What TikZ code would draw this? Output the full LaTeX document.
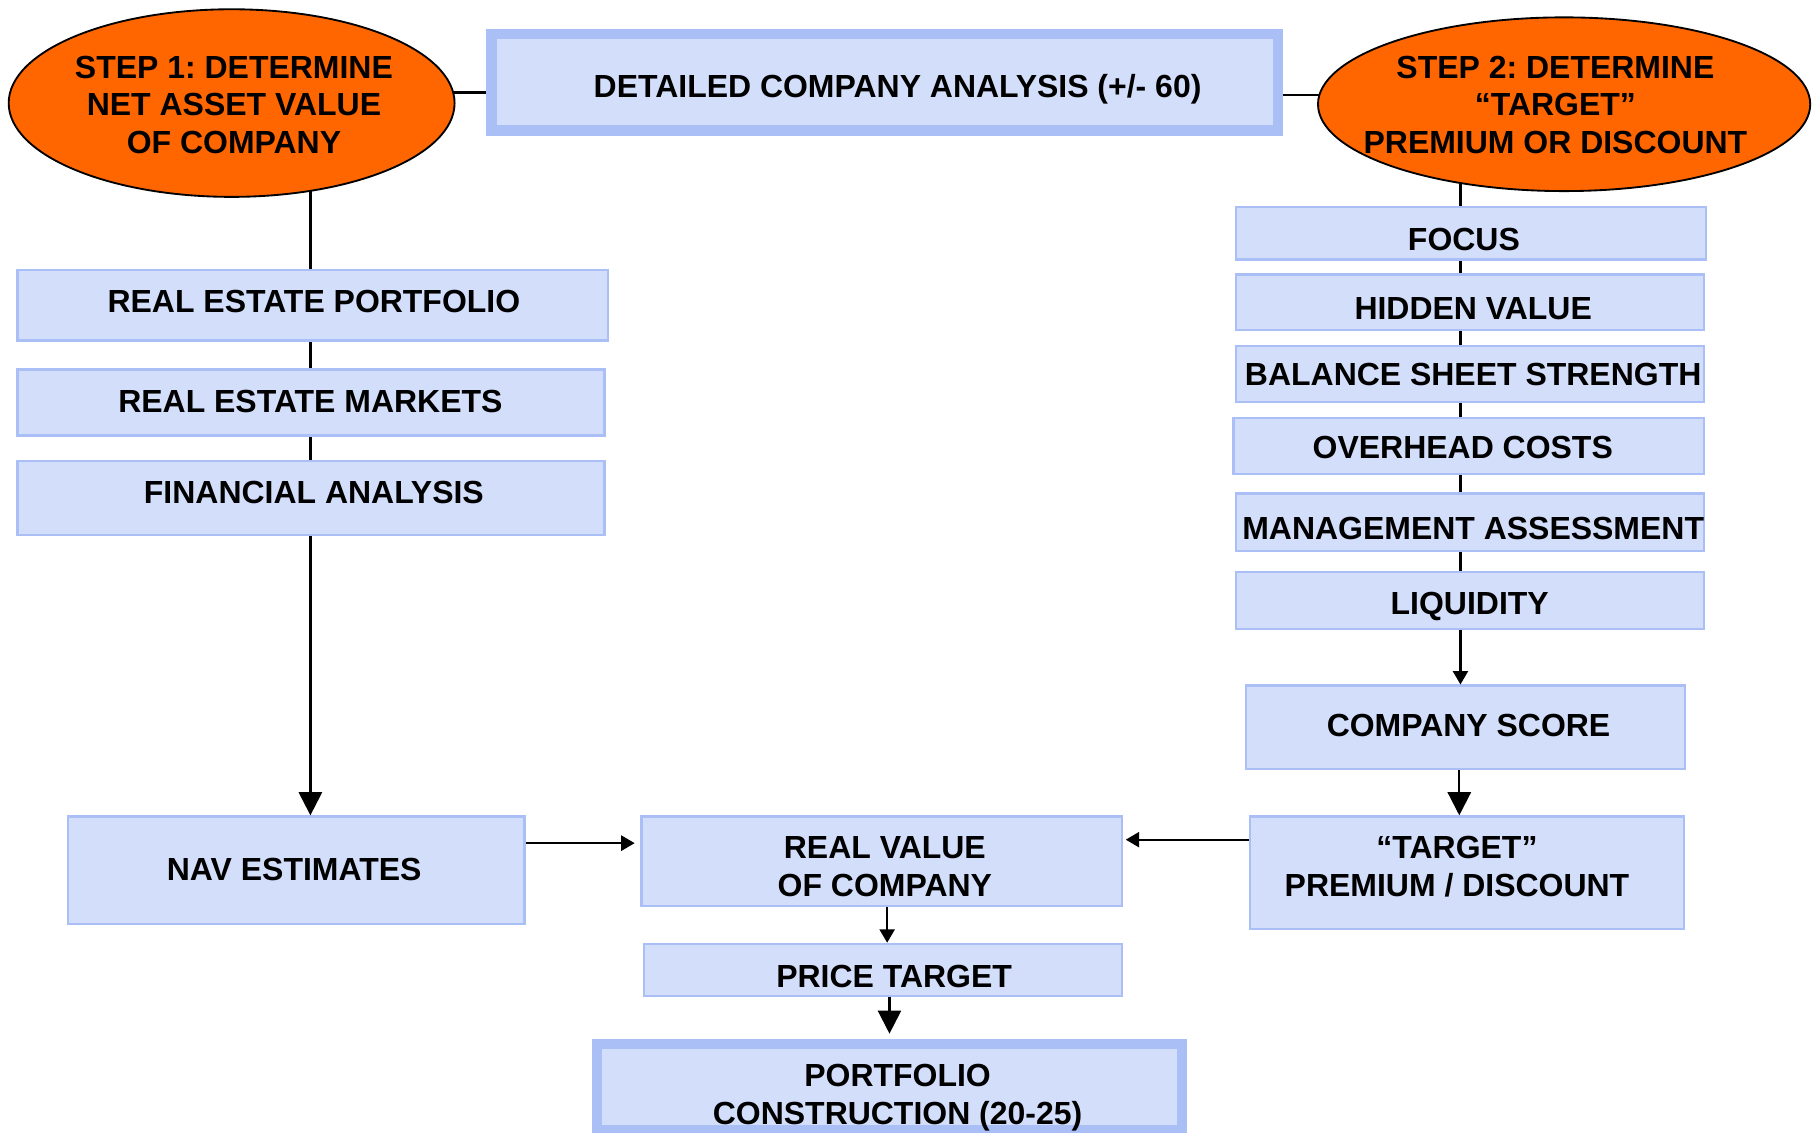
\documentclass[tikz,border=0pt]{standalone}
\usepackage{fontspec}
\setmainfont{Liberation Sans}
\frenchspacing
\usetikzlibrary{arrows.meta,shapes.geometric,backgrounds}
\definecolor{boxfill}{RGB}{211,222,250}
\definecolor{boxline}{RGB}{170,191,245}
\definecolor{steporange}{RGB}{255,102,0}
\tikzset{
  panel/.style={draw=boxline, fill=boxfill, line width=1pt, inner sep=0pt},
  heavypanel/.style={panel, line width=4.5pt},
  stepoval/.style={ellipse, draw=black, fill=steporange, line width=0.8pt, inner sep=0pt},
  lbl/.style={font=\fontsize{13.8}{16.3}\selectfont\bfseries, inner sep=0pt, text height=9.9pt, text depth=0pt},
  lbls/.style={font=\fontsize{13.8}{16.3}\selectfont\bfseries, inner sep=0pt, align=center},
  wire/.style={line width=1pt},
  smallarrow/.style={wire, -{Triangle[length=5.8pt,width=6.5pt]}},
  bigarrow/.style={wire, -{Triangle[length=10pt,width=10pt]}},
}
\begin{document}
\begin{tikzpicture}[x={(0.5pt,0)}, y={(0,-0.5pt)}]
\useasboundingbox (0,0) rectangle (1568,978);

% step ovals and the heading box
\node[stepoval, minimum width=192.5pt, minimum height=81pt] (e1) at (200,89) {};
\node[stepoval, minimum width=212.5pt, minimum height=75pt] (e2) at (1350.5,90) {};
\node[heavypanel, minimum width=339.5pt, minimum height=41.5pt] (det) at (764,71) {};

% left column
\node[panel, minimum width=255pt, minimum height=30.5pt] (rep) at (270,263.5) {};
\node[panel, minimum width=253.5pt, minimum height=28.5pt] (rem) at (268.5,347.5) {};
\node[panel, minimum width=253.5pt, minimum height=32pt] (fin) at (268.5,430) {};
\node[panel, minimum width=197pt, minimum height=46.5pt] (nav) at (256,751.5) {};

% centre column
\node[panel, minimum width=207.5pt, minimum height=38.5pt] (rv) at (761.5,743.5) {};
\node[panel, minimum width=206.5pt, minimum height=22.5pt] (pt) at (762.5,837.5) {};
\node[heavypanel, minimum width=252.5pt, minimum height=37pt] (port) at (768,938.5) {};

% right column
\node[panel, minimum width=203pt, minimum height=22.5pt] (foc) at (1270,201.5) {};
\node[panel, minimum width=202pt, minimum height=24pt] (hid) at (1269,261) {};
\node[panel, minimum width=202pt, minimum height=24pt] (bal) at (1269,323) {};
\node[panel, minimum width=203pt, minimum height=24pt] (ovh) at (1268,385) {};
\node[panel, minimum width=202pt, minimum height=25pt] (mgt) at (1269,451) {};
\node[panel, minimum width=202pt, minimum height=24.5pt] (liq) at (1269,518.5) {};
\node[panel, minimum width=189.5pt, minimum height=36pt] (cs) at (1265.5,628) {};
\node[panel, minimum width=187.5pt, minimum height=48.5pt] (tpd) at (1266.5,753.5) {};

% labels
\node[lbls] (t-e1) at (202,90.5) {STEP 1: DETERMINE\\NET ASSET VALUE\\OF COMPANY};
\node[lbls] (t-e2) at (1343,90.5) {STEP 2: DETERMINE\\“TARGET”\\PREMIUM OR DISCOUNT};
\node[lbl] (t-det) at (775,74) {DETAILED COMPANY ANALYSIS (+/- 60)};
\node[lbl] (t-rep) at (271,260) {REAL ESTATE PORTFOLIO};
\node[lbl] (t-rem) at (268,346) {REAL ESTATE MARKETS};
\node[lbl] (t-fin) at (271,425) {FINANCIAL ANALYSIS};
\node[lbl] (t-nav) at (254,750) {NAV ESTIMATES};
\node[lbls] (t-rv) at (764,748.5) {REAL VALUE\\OF COMPANY};
\node[lbl] (t-pt) at (772,843) {PRICE TARGET};
\node[lbls] (t-port) at (775,948) {PORTFOLIO\\CONSTRUCTION (20-25)};
\node[lbl] (t-foc) at (1264,206) {FOCUS};
\node[lbl] (t-hid) at (1272,266) {HIDDEN VALUE};
\node[lbl] (t-bal) at (1272,323) {BALANCE SHEET STRENGTH};
\node[lbl] (t-ovh) at (1263,386) {OVERHEAD COSTS};
\node[lbl] (t-mgt) at (1272,456) {MANAGEMENT ASSESSMENT};
\node[lbl] (t-liq) at (1269,521) {LIQUIDITY};
\node[lbl] (t-cs) at (1268,626) {COMPANY SCORE};
\node[lbls] (t-tpd) at (1258,748.5) {“TARGET”\\PREMIUM / DISCOUNT};

% guide positions for the connectors
\coordinate (colL) at (268,0);
\coordinate (colR) at (1261,0);
\coordinate (colRV) at (766,0);
\coordinate (colPT) at (768,0);
\coordinate (colCS) at (1260,0);
\coordinate (rowTopL) at (0,80);
\coordinate (rowTopR) at (0,82);
\coordinate (rowNav) at (0,728);
\coordinate (rowTpd) at (0,725);

% plain links run behind the boxes
\begin{scope}[on background layer]
  \fill[white] (0,0) rectangle (1568,978);
  \draw[wire] (e1.center |- rowTopL) -- (det.center |- rowTopL);
  \draw[wire] (det.center |- rowTopR) -- (e2.center |- rowTopR);
  \draw[wire] (colL |- e1.center) -- (colL |- fin.center);
  \draw[wire] (colR |- e2.center) -- (colR |- liq.center);
\end{scope}

% arrows
\draw[bigarrow] (colL |- fin.south) -- (colL |- nav.north);
\draw[smallarrow, shorten >=2.5pt] (nav.east |- rowNav) -- (rv.west |- rowNav);
\draw[smallarrow, shorten >=1pt] (tpd.west |- rowTpd) -- (rv.east |- rowTpd);
\draw[smallarrow] (colRV |- rv.south) -- (colRV |- pt.north);
\draw[bigarrow, shorten >=2.25pt] (colPT |- pt.south) -- (colPT |- port.north);
\draw[smallarrow] (colR |- liq.south) -- (colR |- cs.north);
\draw[bigarrow] (colCS |- cs.south) -- (colCS |- tpd.north);
\end{tikzpicture}
\end{document}
